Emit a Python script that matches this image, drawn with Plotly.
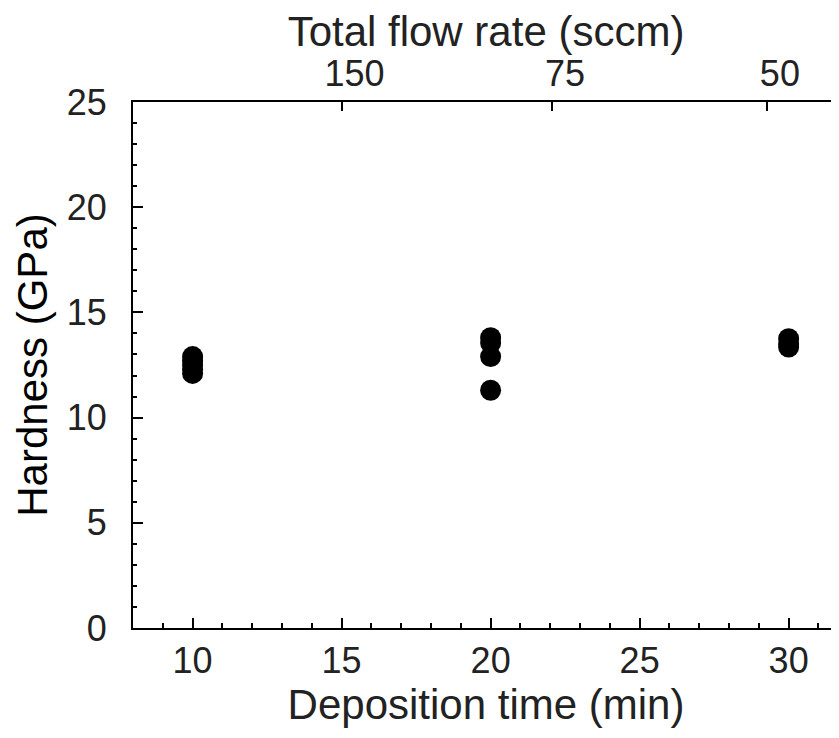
import plotly.graph_objects as go

# Data
dep_time = [10, 10, 10, 10, 10, 20, 20, 20, 20, 30, 30, 30]
hardness = [12.1, 12.3, 12.5, 12.7, 12.9, 13.8, 13.55, 12.9, 11.3, 13.75, 13.5, 13.35]

x_range = [8, 31.69]
y_range = [0, 25]

# Top axis: total flow rate ticks (positions in deposition-time units)
top_tick_pos = [15, 22.06, 29.27]
top_tick_labels = ["150", "75", "50"]

font_family = "Liberation Sans, Arial, sans-serif"
txt_color = "#222222"

fig = go.Figure()
fig.add_trace(go.Scatter(
    x=dep_time, y=hardness, mode="markers",
    marker=dict(color="black", size=21, line=dict(width=0)),
    showlegend=False,
))
# invisible trace on the top axis so it renders
fig.add_trace(go.Scatter(
    x=[x_range[0]], y=[y_range[0]], xaxis="x2", mode="markers",
    marker=dict(opacity=0), showlegend=False, hoverinfo="skip",
))

fig.update_layout(
    width=831, height=722,
    margin=dict(l=125, r=0, t=94, b=102),
    paper_bgcolor="white", plot_bgcolor="white",
    font=dict(family=font_family, color=txt_color, size=36),
    xaxis=dict(
        range=x_range, showgrid=False, zeroline=False, automargin=False,
        showline=True, linecolor="black", linewidth=2,
        ticks="inside", ticklen=10, tickwidth=2, tickcolor="black",
        tickmode="linear", tick0=10, dtick=5,
        minor=dict(ticks="inside", ticklen=5, tickwidth=1.5, tickcolor="black", dtick=1),
        tickfont=dict(size=36, color=txt_color),
        title=dict(text="Deposition time (min)", font=dict(size=42, color=txt_color), standoff=4),
    ),
    xaxis2=dict(
        range=x_range, overlaying="x", side="top", anchor="y", automargin=False,
        showgrid=False, zeroline=False,
        showline=True, linecolor="black", linewidth=2,
        ticks="inside", ticklen=9, tickwidth=2, tickcolor="black",
        tickmode="array", tickvals=top_tick_pos, ticktext=top_tick_labels,
        ticklabelshift=13,
        tickfont=dict(size=36, color=txt_color),
        title=dict(text="Total flow rate (sccm)", font=dict(size=42, color=txt_color), standoff=6),
    ),
    yaxis=dict(
        range=y_range, showgrid=False, zeroline=False, automargin=False,
        showline=True, linecolor="black", linewidth=2,
        ticks="inside", ticklen=10, tickwidth=2, tickcolor="black",
        tickmode="linear", tick0=0, dtick=5,
        ticklabelstandoff=17,
        minor=dict(ticks="inside", ticklen=4, tickwidth=1.5, tickcolor="black", dtick=1),
        tickfont=dict(size=36, color=txt_color),
        title=dict(text="Hardness (GPa)", font=dict(size=42, color="black"), standoff=6),
    ),
)

fig.write_html("out.html")
